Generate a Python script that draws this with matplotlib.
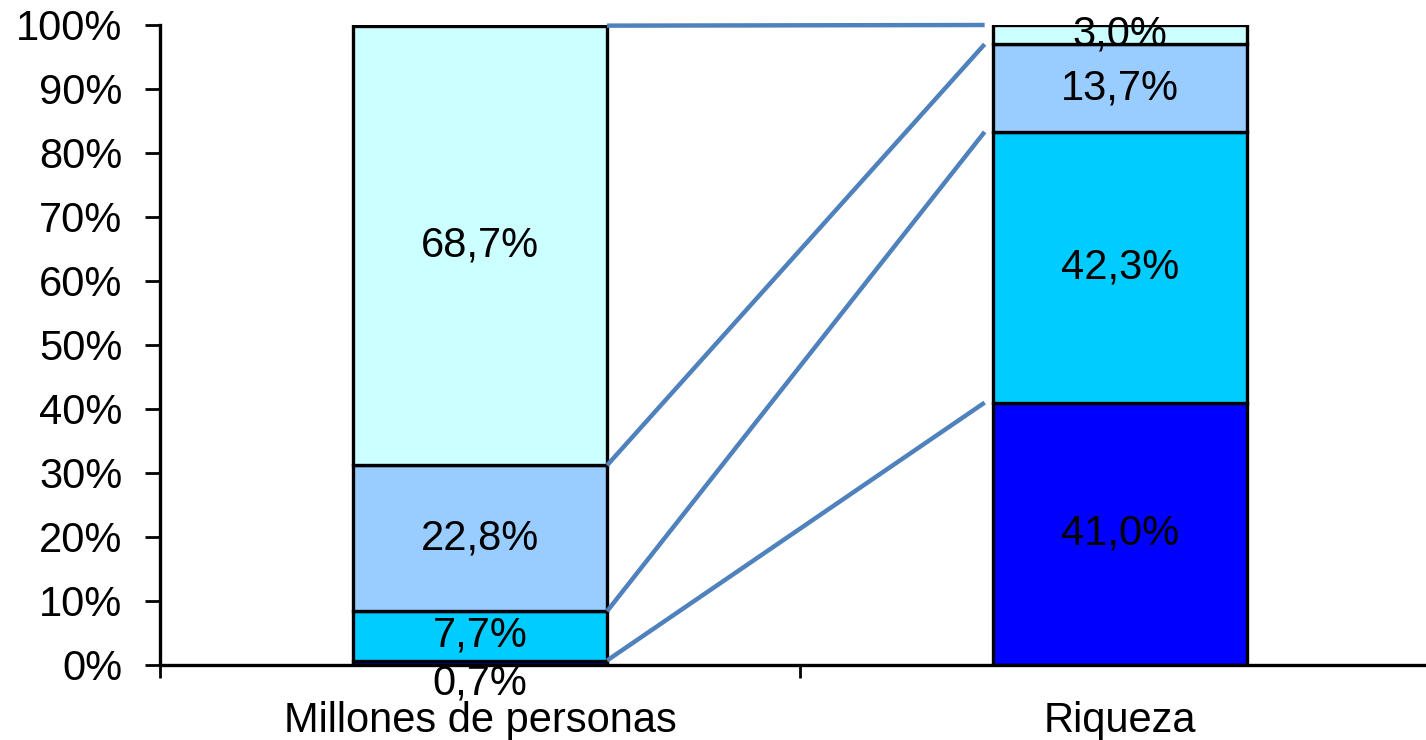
import numpy as np
import matplotlib.pyplot as plt

# ==========================================
# DATA
# ==========================================
categories = ["Millones de personas", "Riqueza"]
segment_colors = ["#0000FF", "#00CCFF", "#99CCFF", "#CCFFFF"]

personas = [0.7, 7.7, 22.8, 68.7]
riqueza = [41.0, 42.3, 13.7, 3.0]

y_ticks = [0, 10, 20, 30, 40, 50, 60, 70, 80, 90, 100]

plt.rcParams["font.family"] = ["Liberation Sans", "DejaVu Sans"]
FS = 30

# ==========================================
# FIGURE
# ==========================================
fig = plt.figure(figsize=(14.26, 7.40), dpi=100)
ax = fig.add_axes([160 / 1426, 1 - 665 / 740, 1266 / 1426, 640 / 740])

bar_w = 0.397
x = np.arange(len(categories))
series = [personas, riqueza]

for i, vals in enumerate(series):
    bottom = 0
    for j, v in enumerate(vals):
        ax.bar(x[i], v, bar_w, bottom=bottom, color=segment_colors[j],
               edgecolor="black", linewidth=2.4, zorder=3)
        label = f"{v:.1f}%".replace(".", ",")
        ymid = bottom + v / 2
        if v < 1.5 and i == 0:
            ymid = -2.9
        ax.text(x[i], ymid, label, ha="center", va="center",
                fontsize=FS, zorder=5, clip_on=False)
        bottom += v

# connector lines between cumulative tops
cum_left = np.cumsum(personas)
cum_right = np.cumsum(riqueza)
x0 = x[0] + bar_w / 2
x1 = x[1] - bar_w / 2 - 0.013
for a, b in zip(cum_left, cum_right):
    ax.plot([x0, x1], [a, b], color="#4F81BD", linewidth=3.2,
            solid_capstyle="butt", zorder=4, clip_on=False)

# ==========================================
# AXES STYLE
# ==========================================
ax.set_xlim(-0.5, -0.5 + 1266 / 640)
ax.set_ylim(0, 100)
ax.set_yticks(y_ticks)
ax.set_yticklabels([f"{t}%" for t in y_ticks], fontsize=FS)

ax.set_xticks(x)
ax.set_xticklabels(categories, fontsize=FS)
ax.set_xticks([-0.5, 0.5], minor=True)
ax.tick_params(axis="x", which="major", length=0, pad=26)
ax.tick_params(axis="x", which="minor", length=9, width=2, direction="out")
ax.tick_params(axis="y", length=11, width=2, pad=16)

ax.spines["top"].set_visible(False)
ax.spines["right"].set_visible(False)
ax.spines["left"].set_linewidth(2.4)
ax.spines["bottom"].set_linewidth(2.4)
ax.spines["left"].set_zorder(6)
ax.spines["bottom"].set_zorder(6)

fig.savefig("out.png", dpi=100)
